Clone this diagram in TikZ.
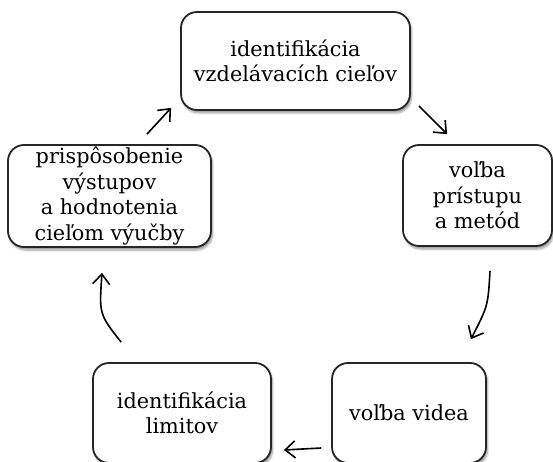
\documentclass[tikz,border=0pt]{standalone}
\usepackage{fontspec}
\setmainfont{DejaVu Serif}
\usetikzlibrary{arrows.meta,calc,shadows.blur}

\begin{document}
\begin{tikzpicture}[x=1pt,y=-1pt,
  stage/.style={draw=black!85, line width=1.8pt, rounded corners=16pt, fill=white,
    align=center, inner sep=2pt,
    blur shadow={shadow xshift=1.5pt, shadow yshift=-3pt, shadow blur steps=6, shadow opacity=40},
    font=\fontsize{20.8}{25.5}\selectfont},
  flow/.style={line width=1.6pt, -{Straight Barb[length=10pt,width=17pt,line width=1.6pt]}}]

  \useasboundingbox (0,0) rectangle (553,462);

  % the five stages
  \node[stage, minimum width=229pt, minimum height=98pt] (goals) at (295.5,61) {identifikácia\\vzdelávacích cieľov};
  \node[stage, minimum width=149pt, minimum height=101pt] (method) at (477.5,195.5) {voľba\\prístupu\\a metód};
  \node[stage, minimum width=154pt, minimum height=100pt] (video) at (409,413) {voľba videa};
  \node[stage, minimum width=178pt, minimum height=100pt] (limits) at (182,413) {identifikácia\\limitov};
  \node[stage, minimum width=203pt, minimum height=102pt] (adapt) at (109.5,196) {prispôsobenie\\výstupov\\a hodnotenia\\cieľom výučby};

  % the cycle
  \draw[flow] ($(goals.south east)+(8,-5)$) -- ($(method.north west)+(45,-10)$); % goals->method
  \draw[flow] ($(method.south)+(12.5,24)$) .. controls ($(method.south)+(10.5,59)$) .. ($(video.north east)+(-16,-23)$); % method->video
  \draw[flow] ($(video.west)+(-10,35)$) -- ($(limits.east)+(12,37)$); % video->limits
  \draw[flow] ($(limits.north west)+(29,-20)$) .. controls ($(limits.north west)+(7,-48)$) .. ($(adapt.south)+(-7.5,25)$); % limits->adapt
  \draw[flow] ($(adapt.north)+(37.5,-10)$) -- ($(goals.south west)+(-9,-3)$); % adapt->goals
\end{tikzpicture}
\end{document}
